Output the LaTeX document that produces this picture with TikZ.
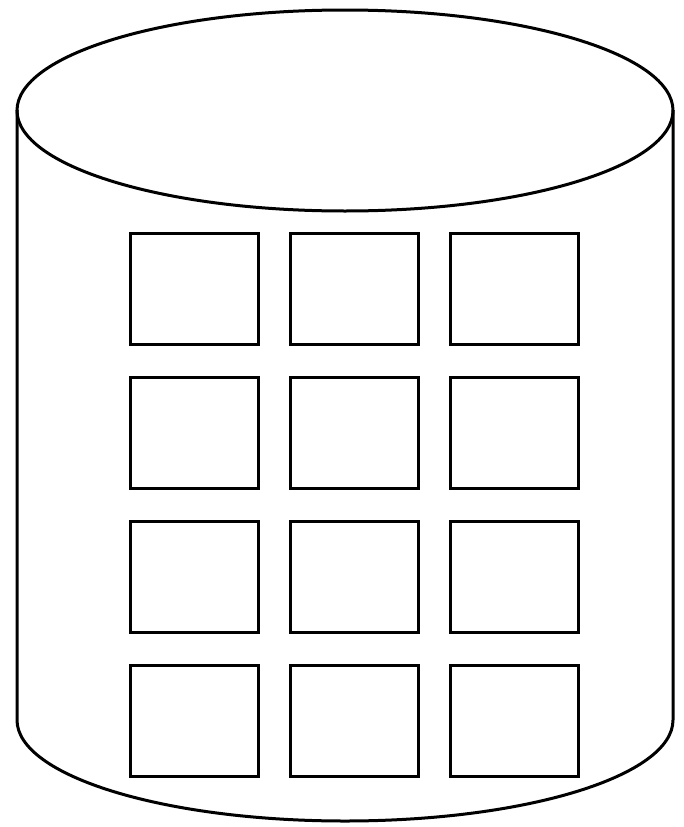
\documentclass[tikz,border=0pt]{standalone}
\usepackage{tikz}
\usetikzlibrary{positioning}

\begin{document}
\begin{tikzpicture}[
  x=1pt, y=-1pt,
  line/.style={draw, line width=3pt, line join=miter},
  cell/.style={line, minimum width=128pt, minimum height=111pt, inner sep=0pt, anchor=north west}
]
  \useasboundingbox (0,0) rectangle (683,827);

  % cylinder body
  \draw[line] (17,110) -- (17,720) arc[start angle=180, end angle=360, x radius=328, y radius=-101] -- (673,110);
  \draw[line] (345,110.5) ellipse[x radius=328, y radius=100.5];

  % grid of cells
  \foreach \r/\y in {1/232, 2/376, 3/520, 4/664}{
    \foreach \c/\x in {1/129, 2/289, 3/449}{
      \node[cell] (cell-\r-\c) at (\x-0.5,\y-0.5) {};
    }
  }
\end{tikzpicture}
\end{document}
